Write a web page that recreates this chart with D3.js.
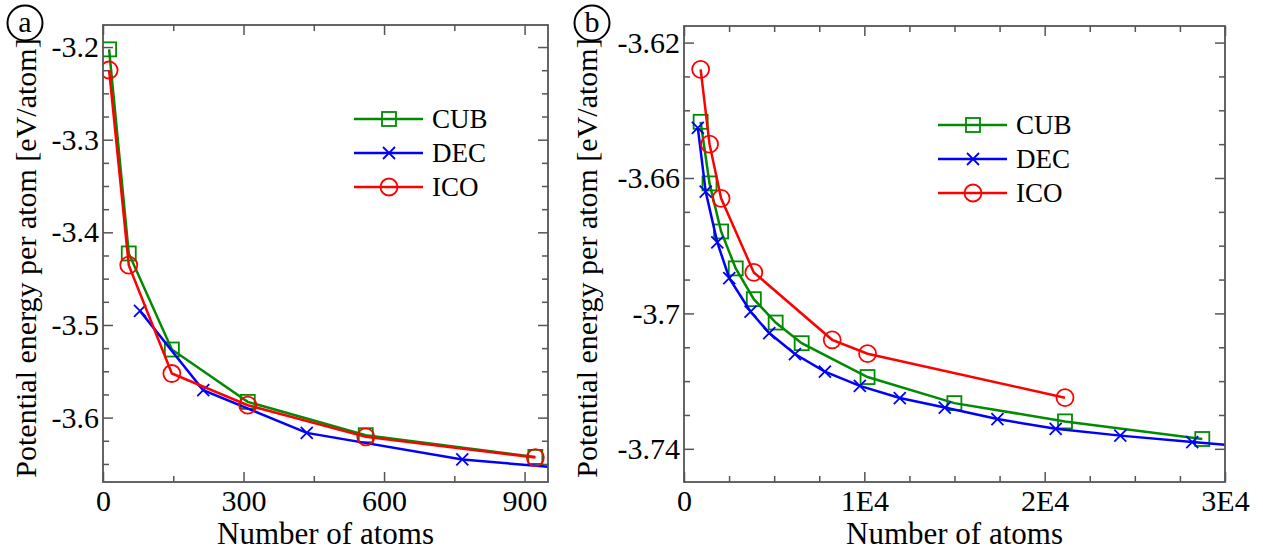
<!DOCTYPE html>
<html>
<head>
<meta charset="utf-8">
<script src="https://cdn.jsdelivr.net/npm/d3@7"></script>
<style>
  body { margin: 0; background: #fff; }
  svg, svg text { font-family: "Liberation Serif", "Times New Roman", serif; }
</style>
</head>
<body>
<div id="chart"></div>
<script>
// panel (a): small clusters
var sizesA_CUB = [13, 55, 147, 309, 561, 923];
var energyA_CUB = [-3.2025, -3.4228, -3.5265, -3.583, -3.619, -3.6424];
var sizesA_DEC = [79, 214, 435, 767, 1202];
var energyA_DEC = [-3.4848, -3.5704, -3.6165, -3.6452, -3.664];
var sizesA_ICO = [13, 55, 147, 309, 561, 923];
var energyA_ICO = [-3.2248, -3.4354, -3.5524, -3.5866, -3.6208, -3.6431];

// panel (b): large clusters
var sizesB_CUB = [923, 1415, 2057, 2869, 3871, 5083, 6525, 10179, 14993, 21127, 28741];
var energyB_CUB = [-3.6434, -3.6616, -3.6758, -3.6867, -3.6958, -3.7027, -3.7088, -3.7188, -3.7265, -3.7319, -3.7371];
var sizesB_DEC = [767, 1202, 1845, 2510, 3693, 4727, 6150, 7812, 9751, 11967, 14460, 17380, 20609, 24194, 28183, 32000];
var energyB_DEC = [-3.6452, -3.664, -3.679, -3.6896, -3.6995, -3.7058, -3.712, -3.7172, -3.7214, -3.725, -3.7278, -3.7312, -3.7341, -3.7361, -3.738, -3.7396];
var sizesB_ICO = [923, 1415, 2057, 3871, 8217, 10179, 21127];
var energyB_ICO = [-3.6279, -3.650, -3.666, -3.6879, -3.7078, -3.7119, -3.7249];

var seriesNames = ["CUB", "DEC", "ICO"];
var seriesColors = ["#008b00", "#0000ff", "#ff0000"];
var seriesMarkers = ["square", "cross", "circle"];

var xTicksA = [0, 300, 600, 900];
var xTickLabelsA = ["0", "300", "600", "900"];
var yTicksA = [-3.2, -3.3, -3.4, -3.5, -3.6];
var yTickLabelsA = ["-3.2", "-3.3", "-3.4", "-3.5", "-3.6"];
var xTicksB = [0, 10000, 20000, 30000];
var xTickLabelsB = ["0", "1E4", "2E4", "3E4"];
var yTicksB = [-3.62, -3.66, -3.70, -3.74];
var yTickLabelsB = ["-3.62", "-3.66", "-3.7", "-3.74"];

var FONT = "Liberation Serif, Times New Roman, serif";

var svg = d3.select("#chart")
  .append("svg")
  .attr("width", 1263)
  .attr("height", 550)
  .attr("font-family", FONT);

function zip(a, b) { return a.map(function (v, i) { return [v, b[i]]; }); }

function minorTicks(domain, step, majors) {
  var lo = Math.ceil(d3.min(domain) / step - 1e-9), hi = Math.floor(d3.max(domain) / step + 1e-9);
  var out = [];
  for (var i = lo; i <= hi; i++) {
    var v = +(i * step).toFixed(6);
    if (!majors.some(function (m) { return Math.abs(m - v) < step / 10; })) out.push(v);
  }
  return out;
}

function drawMarker(sel, kind, color) {
  if (kind == "square") {
    sel.append("rect").attr("x", -7).attr("y", -7).attr("width", 14).attr("height", 14)
      .attr("fill", "none").attr("stroke", color).attr("stroke-width", 1.8);
  } else if (kind == "cross") {
    sel.append("path").attr("d", "M-6,-6L6,6M-6,6L6,-6")
      .attr("fill", "none").attr("stroke", color).attr("stroke-width", 1.8);
  } else {
    sel.append("circle").attr("r", 8.5)
      .attr("fill", "none").attr("stroke", color).attr("stroke-width", 1.8);
  }
}

function styleAxis(g) {
  g.select(".domain").remove();
  g.attr("font-family", FONT).attr("font-size", 30);
  g.selectAll(".tick line").attr("stroke", "#555").attr("stroke-width", 1.5);
  g.selectAll(".tick text").attr("fill", "#000");
}

function drawPanel(p) {
  var x = d3.scaleLinear().domain(p.xDomain).range([p.left, p.right]);
  var y = d3.scaleLinear().domain(p.yDomain).range([p.bottom, p.top]);
  var g = svg.append("g");

  var xMin = minorTicks(p.xDomain, p.xMinor, p.xTicks);
  var yMin = minorTicks(p.yDomain, p.yMinor, p.yTicks);

  // bottom / top
  g.append("g").attr("transform", "translate(0," + p.bottom + ")")
    .call(d3.axisBottom(x).tickValues(p.xTicks).tickFormat(function (d, i) { return p.xLabels[i]; })
      .tickSize(-10).tickPadding(8)).call(styleAxis);
  g.append("g").attr("transform", "translate(0," + p.bottom + ")")
    .call(d3.axisBottom(x).tickValues(xMin).tickFormat("").tickSize(-6)).call(styleAxis);
  g.append("g").attr("transform", "translate(0," + p.top + ")")
    .call(d3.axisTop(x).tickValues(p.xTicks).tickFormat("").tickSize(-10)).call(styleAxis);
  g.append("g").attr("transform", "translate(0," + p.top + ")")
    .call(d3.axisTop(x).tickValues(xMin).tickFormat("").tickSize(-6)).call(styleAxis);
  // left / right
  g.append("g").attr("transform", "translate(" + p.left + ",0)")
    .call(d3.axisLeft(y).tickValues(p.yTicks).tickFormat(function (d, i) { return p.yLabels[i]; })
      .tickSize(-10).tickPadding(4)).call(styleAxis);
  g.append("g").attr("transform", "translate(" + p.left + ",0)")
    .call(d3.axisLeft(y).tickValues(yMin).tickFormat("").tickSize(-6)).call(styleAxis);
  g.append("g").attr("transform", "translate(" + p.right + ",0)")
    .call(d3.axisRight(y).tickValues(p.yTicks).tickFormat("").tickSize(-10)).call(styleAxis);
  g.append("g").attr("transform", "translate(" + p.right + ",0)")
    .call(d3.axisRight(y).tickValues(yMin).tickFormat("").tickSize(-6)).call(styleAxis);

  // clip
  var clipId = "clip" + p.tag;
  svg.append("clipPath").attr("id", clipId).append("rect")
    .attr("x", p.left).attr("y", p.top).attr("width", p.right - p.left).attr("height", p.bottom - p.top);

  var line = d3.line().x(function (d) { return x(d[0]); }).y(function (d) { return y(d[1]); });
  var plot = g.append("g").attr("clip-path", "url(#" + clipId + ")");

  p.series.forEach(function (s, k) {
    plot.append("path").datum(s)
      .attr("d", line).attr("fill", "none")
      .attr("stroke", seriesColors[k]).attr("stroke-width", 2.5);
    plot.selectAll(".m" + k).data(s).enter().append("g")
      .attr("class", "m" + k)
      .attr("transform", function (d) { return "translate(" + x(d[0]) + "," + y(d[1]) + ")"; })
      .each(function () { drawMarker(d3.select(this), seriesMarkers[k], seriesColors[k]); });
  });

  // frame
  g.append("rect").attr("x", p.left).attr("y", p.top)
    .attr("width", p.right - p.left).attr("height", p.bottom - p.top)
    .attr("fill", "none").attr("stroke", "#555").attr("stroke-width", 1.8);

  // legend
  seriesNames.forEach(function (name, k) {
    var ly = p.legY + k * 34;
    g.append("line").attr("x1", p.legX).attr("x2", p.legX + 69)
      .attr("y1", ly).attr("y2", ly)
      .attr("stroke", seriesColors[k]).attr("stroke-width", 2.5);
    var mg = g.append("g").attr("transform", "translate(" + (p.legX + 35) + "," + ly + ")");
    drawMarker(mg, seriesMarkers[k], seriesColors[k]);
    g.append("text").attr("x", p.legX + 78).attr("y", ly + 9)
      .attr("font-size", 27).text(name);
  });

  // axis titles
  g.append("text")
    .attr("x", (p.left + p.right) / 2).attr("y", 544)
    .attr("text-anchor", "middle").attr("font-size", 31)
    .text("Number of atoms");
  g.append("text")
    .attr("transform", "translate(" + p.yTitleX + ",258) rotate(-90)")
    .attr("text-anchor", "middle").attr("font-size", 30)
    .text("Potential energy per atom [eV/atom]");

  // panel letter
  g.append("circle").attr("cx", p.letterX).attr("cy", 23).attr("r", 17.5)
    .attr("fill", "none").attr("stroke", "#000").attr("stroke-width", 2);
  g.append("text").attr("x", p.letterX).attr("y", 32)
    .attr("text-anchor", "middle").attr("font-size", 30).text(p.tag);
}

drawPanel({
  tag: "a",
  left: 103, right: 548, top: 25, bottom: 482,
  xDomain: [0, 950], yDomain: [-3.6695, -3.1762],
  xTicks: xTicksA, xLabels: xTickLabelsA, xMinor: 150,
  yTicks: yTicksA, yLabels: yTickLabelsA, yMinor: 0.025,
  series: [zip(sizesA_CUB, energyA_CUB), zip(sizesA_DEC, energyA_DEC), zip(sizesA_ICO, energyA_ICO)],
  legX: 354, legY: 119,
  yTitleX: 36, letterX: 25
});

drawPanel({
  tag: "b",
  left: 684, right: 1225, top: 26, bottom: 482,
  xDomain: [0, 30000], yDomain: [-3.7498, -3.6151],
  xTicks: xTicksB, xLabels: xTickLabelsB, xMinor: 2500,
  yTicks: yTicksB, yLabels: yTickLabelsB, yMinor: 0.01,
  series: [zip(sizesB_CUB, energyB_CUB), zip(sizesB_DEC, energyB_DEC), zip(sizesB_ICO, energyB_ICO)],
  legX: 938, legY: 125,
  yTitleX: 597, letterX: 592
});
</script>
</body>
</html>
